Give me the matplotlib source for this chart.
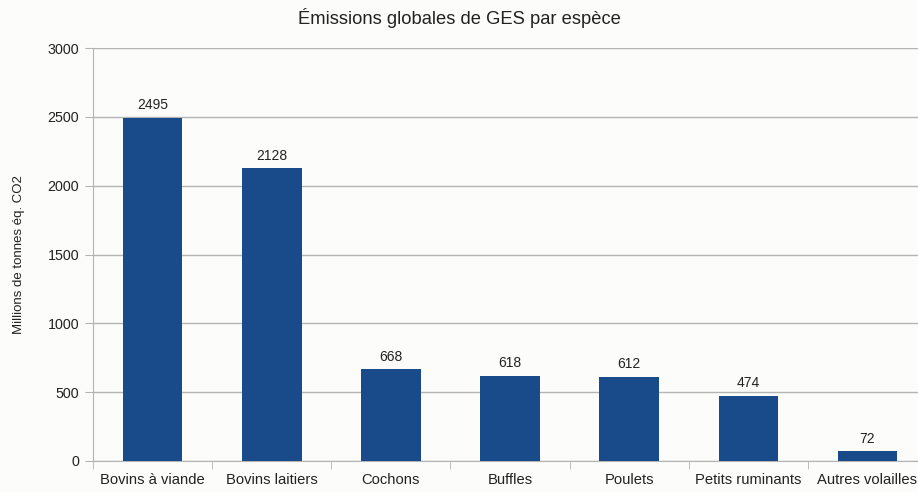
import matplotlib
matplotlib.use("Agg")
import matplotlib.pyplot as plt
import numpy as np

# Data
categories = ["Bovins à viande", "Bovins laitiers", "Cochons", "Buffles",
              "Poulets", "Petits ruminants", "Autres volailles"]
emissions = [2495, 2128, 668, 618, 612, 474, 72]
y_ticks = [0, 500, 1000, 1500, 2000, 2500, 3000]

bar_color = "#194b8b"
grid_color = "#b4b4b4"
text_color = "#222222"
bg_color = "#fcfcfa"

plt.rcParams["font.family"] = ["Liberation Sans", "DejaVu Sans"]

fig = plt.figure(figsize=(9.18, 4.92), dpi=100, facecolor=bg_color)
# axes run slightly past the right edge, as in the reference
ax = fig.add_axes([93 / 918, 31 / 492, 834 / 918, 413 / 492], facecolor=bg_color)

x = np.arange(len(categories))
bars = ax.bar(x, emissions, width=0.5, color=bar_color, zorder=3)

# Value labels above each bar
for bar, val in zip(bars, emissions):
    ax.text(bar.get_x() + bar.get_width() / 2, val + 40, str(val),
            ha="center", va="bottom", fontsize=10, color=text_color)

ax.set_xlim(-0.5, len(categories) - 0.5)
ax.set_ylim(0, 3000)
ax.set_yticks(y_ticks)
ax.set_yticklabels([str(t) for t in y_ticks], fontsize=10.3, color=text_color)
ax.yaxis.grid(True, color=grid_color, linewidth=1, zorder=0)
ax.tick_params(axis="y", length=6, color=grid_color, pad=4)

# Category labels centred, tick marks on the boundaries
ax.set_xticks(x)
ax.set_xticklabels(categories, fontsize=10.6, color=text_color)
ax.set_xticks(np.arange(len(categories) + 1) - 0.5, minor=True)
ax.tick_params(axis="x", which="major", length=0, pad=9)
ax.tick_params(axis="x", which="minor", length=6, color=grid_color)

for side in ["top", "right"]:
    ax.spines[side].set_visible(False)
ax.spines["left"].set_color(grid_color)
ax.spines["bottom"].set_color(grid_color)

ax.set_ylabel("Millions de tonnes éq. CO2", fontsize=9.5, color=text_color)
ax.yaxis.set_label_coords(-68 / 834, 0.5)

fig.text(0.5, 1 - 18 / 492, "Émissions globales de GES par espèce",
         ha="center", va="center", fontsize=13.2, color=text_color)

fig.savefig("out.png", dpi=100, facecolor=bg_color)
